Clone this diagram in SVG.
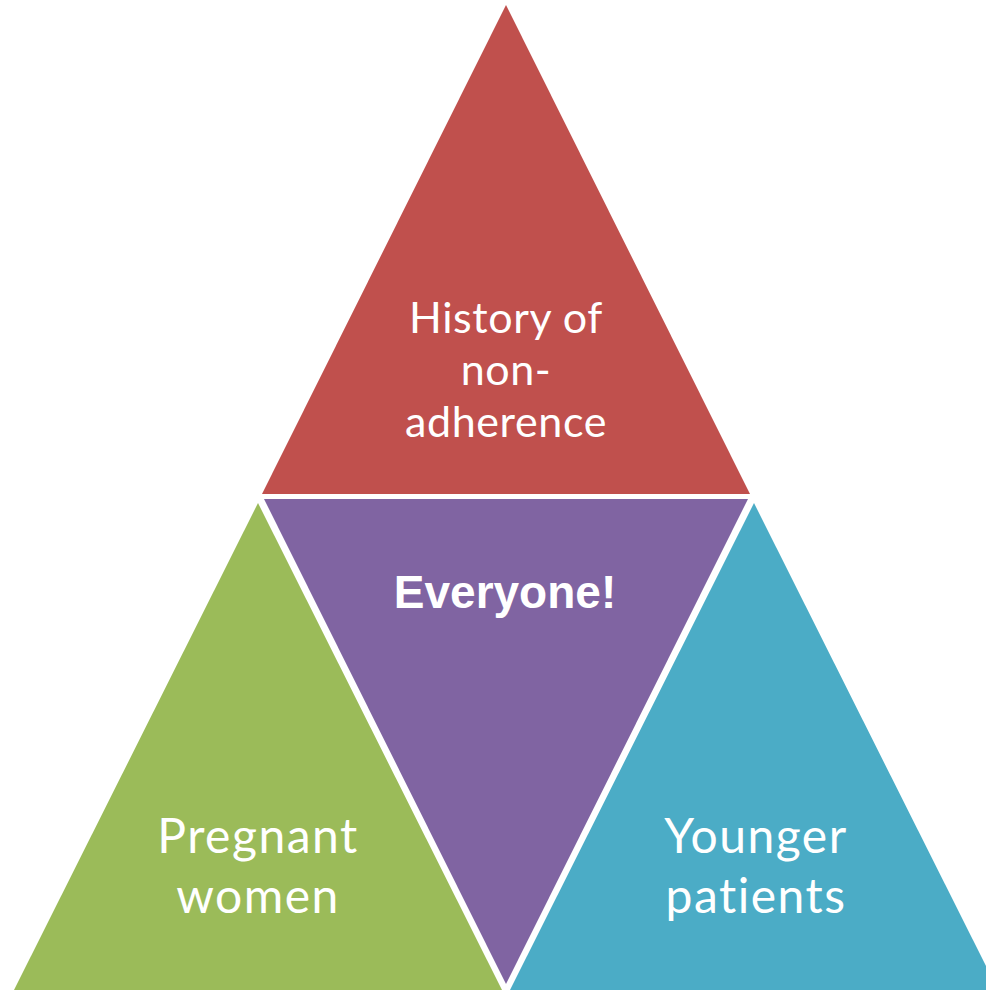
<svg xmlns="http://www.w3.org/2000/svg" width="986" height="990" viewBox="0 0 986 990">
  <style>
    .seg { stroke: none; }
    .lbl { fill: #ffffff; font-family: Lato, "Open Sans", sans-serif; text-anchor: middle; font-variant-ligatures: none; }
    .top { font-size: 43px; letter-spacing: 0.6px; }
    .low { font-size: 48px; letter-spacing: 1.5px; }
    .bold { fill: #ffffff; font-family: "Liberation Sans", Arial, sans-serif; font-weight: bold; text-anchor: middle; }
  </style>
  <rect width="986" height="990" fill="#ffffff"/>

  <!-- Top triangle -->
  <g id="history">
    <polygon class="seg" fill="#C0504D" points="506,5 750,494 262,494"/>
    <text class="lbl top" x="506" y="333">History of</text>
    <text class="lbl top" x="506" y="385">non-</text>
    <text class="lbl top" x="506" y="437">adherence</text>
  </g>

  <!-- Centre (inverted) triangle -->
  <g id="everyone">
    <polygon class="seg" fill="#8064A2" points="264,499 748,499 506,984"/>
    <text class="bold" font-size="46" x="505" y="608">Everyone!</text>
  </g>

  <!-- Bottom-left triangle -->
  <g id="pregnant">
    <polygon class="seg" fill="#9BBB59" points="258,503 502,990 14,990"/>
    <text class="lbl low" x="258" y="853">Pregnant</text>
    <text class="lbl low" x="258" y="913">women</text>
  </g>

  <!-- Bottom-right triangle -->
  <g id="younger">
    <polygon class="seg" fill="#4BACC6" points="754,503 998,990 510,990"/>
    <text class="lbl low" x="756" y="853">Younger</text>
    <text class="lbl low" x="756" y="913">patients</text>
  </g>

  <g id="connectors"/>
</svg>
